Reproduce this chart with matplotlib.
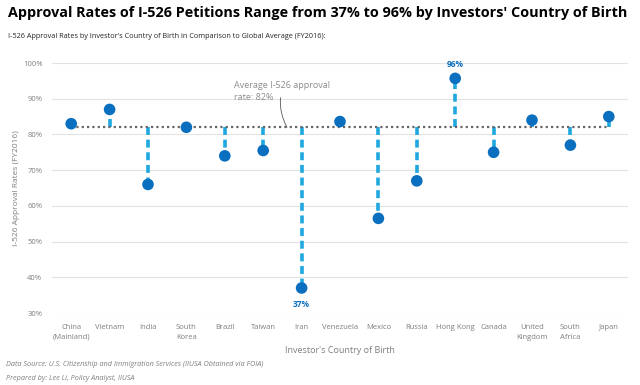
import matplotlib
matplotlib.use("Agg")
import matplotlib.pyplot as plt
from matplotlib.ticker import MultipleLocator, FuncFormatter

countries = ["China\n(Mainland)", "Vietnam", "India", "South\nKorea", "Brazil", "Taiwan",
             "Iran", "Venezuela", "Mexico", "Russia", "Hong Kong", "Canada",
             "United\nKingdom", "South\nAfrica", "Japan"]
rates = [83, 87, 66, 82, 74, 75.5, 37, 83.6, 56.5, 67, 95.7, 75, 84, 77, 85]
average = 82
labelled = {6: "37%", 10: "96%"}

plt.rcParams["font.family"] = ["Open Sans", "DejaVu Sans"]

stem_color = "#1fa8e0"
dot_color = "#0b6fbf"
grey = "#7f7f7f"

fig = plt.figure(figsize=(6.4, 3.85), dpi=100)
ax = fig.add_axes([52 / 640, 1 - 313 / 385, 576 / 640, 250 / 385])

x = list(range(len(countries)))
for i, r in zip(x, rates):
    ax.plot([i, i], [average, r], color=stem_color, lw=2.6, ls=(0, (2.2, 1.3)), zorder=2)
ax.plot([x[0], x[-1]], [average, average], color="#666666", lw=1.6, ls=(0, (1, 1.4)), zorder=3)
ax.scatter(x, rates, s=70, color=dot_color, zorder=4, edgecolors="none")

for i, txt in labelled.items():
    off = -4.5 if rates[i] < average else 4
    ax.text(i, rates[i] + off, txt, ha="center", va="center", fontsize=6, color=dot_color,
            fontweight="bold")

ax.text(4.25, 92, "Average I-526 approval\nrate: 82%", fontsize=6.5, color="#8c8c8c",
        ha="left", va="center", linespacing=1.4)
ax.annotate("", xy=(5.62, average), xytext=(5.45, 90.3),
            arrowprops=dict(arrowstyle="-", color="#555555", lw=0.6,
                            connectionstyle="arc3,rad=0.15", shrinkA=0, shrinkB=0))

ax.set_xlim(-0.5, len(countries) - 0.5)
ax.set_ylim(30, 100)
ax.yaxis.set_major_locator(MultipleLocator(10))
ax.yaxis.set_major_formatter(FuncFormatter(lambda v, p: f"{int(v)}%"))
ax.set_xticks(x)
ax.set_xticklabels(countries, fontsize=5.5, color=grey, linespacing=1.5, va="top")
ax.tick_params(axis="y", labelsize=5.5, labelcolor=grey, length=0, pad=7)
ax.tick_params(axis="x", length=0, pad=8)
ax.grid(axis="y", color="#e3e3e3", lw=0.8)
ax.set_axisbelow(True)
for s in ax.spines.values():
    s.set_visible(False)

ax.set_ylabel("I-526 Approval Rates (FY2016)", fontsize=6, color=grey, labelpad=2)
ax.set_xlabel("Investor's Country of Birth", fontsize=6.5, color=grey, labelpad=4)

fig.text(8 / 640, 1 - 13 / 385, "Approval Rates of I-526 Petitions Range from 37% to 96% by Investors' Country of Birth",
         fontsize=10.4, fontweight="bold", color="black", va="center", ha="left",
         family=["Open Sans", "DejaVu Sans"])
fig.text(8 / 640, 1 - 36 / 385, "I-526 Approval Rates by Investor's Country of Birth in Comparison to Global Average (FY2016):",
         fontsize=5.2, color="#222222", va="center", ha="left")
fig.text(6 / 640, 1 - 365 / 385, "Data Source: U.S. Citizenship and Immigration Services (IIUSA Obtained via FOIA)",
         fontsize=5.2, color=grey, style="italic", va="center", ha="left")
fig.text(6 / 640, 1 - 378 / 385, "Prepared by: Lee Li, Policy Analyst, IIUSA",
         fontsize=5.2, color=grey, style="italic", va="center", ha="left")

fig.savefig("out.png", dpi=100)
